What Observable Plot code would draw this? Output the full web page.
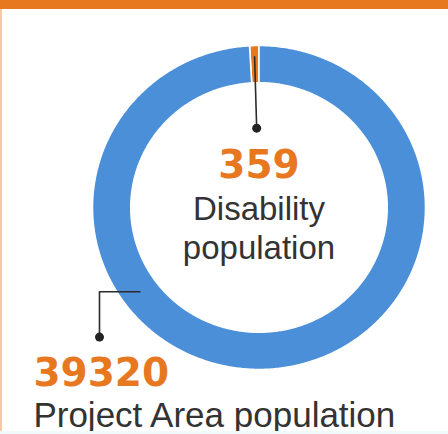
<!DOCTYPE html>
<html>
<head>
<meta charset="utf-8">
<script src="https://cdn.jsdelivr.net/npm/d3@7"></script>
<script src="https://cdn.jsdelivr.net/npm/@observablehq/plot@0.6"></script>
<style>
  html, body { margin: 0; padding: 0; background: #fff; }
  #wrap { position: relative; width: 448px; height: 434px; overflow: hidden; }
  #topbar { position: absolute; left: 0; top: 0; width: 448px; height: 9px; background: #E8781F; }
  #leftbar { position: absolute; left: 0; top: 0; width: 2px; height: 434px; background: #F6C9A4; }
  #bottombar { position: absolute; left: 0; top: 431px; width: 448px; height: 3px; background: #F0FAFB; }
</style>
</head>
<body>
<div id="wrap"><div id="chart"></div><div id="leftbar"></div><div id="topbar"></div><div id="bottombar"></div></div>
<script>
// Data
const categories = ["Disability population", "Project Area population"];
const values = [359, 39320];
const colors = ["#E8781F", "#4A8FD8"];
const numberLabels = ["359", "39320"];
const nameLabels = ["Disability\npopulation", "Project Area population"];

// Build donut slices (disability slice ends at 12 o'clock)
const total = d3.sum(values);
const a0 = -values[0] / total * 2 * Math.PI;
const slices = [];
let start = a0;
values.forEach((v, i) => {
  const end = start + v / total * 2 * Math.PI;
  slices.push({cat: categories[i], start, end, color: colors[i]});
  start = end;
});
const rOuter = 1, rInner = 0.77, rMid = (rOuter + rInner) / 2;
const pts = [];
for (const s of slices) {
  const n = Math.max(8, Math.ceil((s.end - s.start) / 0.01));
  for (let k = 0; k <= n; k++) {
    const t = s.start + (s.end - s.start) * k / n;
    pts.push({cat: s.cat, x: rOuter * Math.sin(t), y: rOuter * Math.cos(t), color: s.color});
  }
  for (let k = n; k >= 0; k--) {
    const t = s.start + (s.end - s.start) * k / n;
    pts.push({cat: s.cat, x: rInner * Math.sin(t), y: rInner * Math.cos(t), color: s.color});
  }
}

// Leader lines
const midA = (slices[0].start + slices[0].end) / 2;
const leader1 = [
  {x: 0.93 * Math.sin(midA), y: 0.93 * Math.cos(midA)},
  {x: 0.49 * Math.sin(midA), y: 0.49 * Math.cos(midA)}
];
const aP = 234 * Math.PI / 180;
const leader2 = [
  {x: rMid * Math.sin(aP), y: rMid * Math.cos(aP)},
  {x: -0.958, y: rMid * Math.cos(aP)},
  {x: -0.958, y: -0.80}
];
const dots = [leader1[1], leader2[2]];

const texts = [
  {x: 0, y: 0.18, text: numberLabels[0], font: "DejaVu Sans", size: 39, weight: "bold", fill: colors[0], anchor: "middle"},
  {x: 0, y: -0.315, text: nameLabels[0], font: "Liberation Sans", size: 33, weight: "normal", fill: "#333", anchor: "middle"},
  {x: -1.355, y: -1.099, text: numberLabels[1], font: "DejaVu Sans", size: 39, weight: "bold", fill: colors[0], anchor: "start"},
  {x: -1.355, y: -1.358, text: nameLabels[1], font: "Liberation Sans", size: 35, weight: "normal", fill: "#333", anchor: "start"}
];

const plot = Plot.plot({
  width: 448,
  height: 434,
  margin: 0,
  x: {domain: [-1, 1], range: [92, 425], axis: null},
  y: {domain: [-1, 1], range: [369, 45], axis: null},
  style: {background: "transparent", overflow: "visible"},
  marks: [
    Plot.line(pts, {x: "x", y: "y", z: "cat", fill: "color", stroke: "#fff", strokeWidth: 1.6, curve: "linear-closed"}),
    Plot.line(leader1, {x: "x", y: "y", stroke: "#2b2b2b", strokeWidth: 1.6}),
    Plot.line(leader2, {x: "x", y: "y", stroke: "#2b2b2b", strokeWidth: 1.6}),
    Plot.dot(dots, {x: "x", y: "y", r: 4.5, fill: "#222"}),
    ...texts.map(t => Plot.text([t], {
      x: "x", y: "y", text: "text", fill: t.fill, fontSize: t.size, fontWeight: t.weight,
      fontFamily: t.font, textAnchor: t.anchor, lineAnchor: "bottom", lineHeight: 1.16
    }))
  ]
});
document.getElementById("chart").appendChild(plot);
</script>
</body>
</html>
